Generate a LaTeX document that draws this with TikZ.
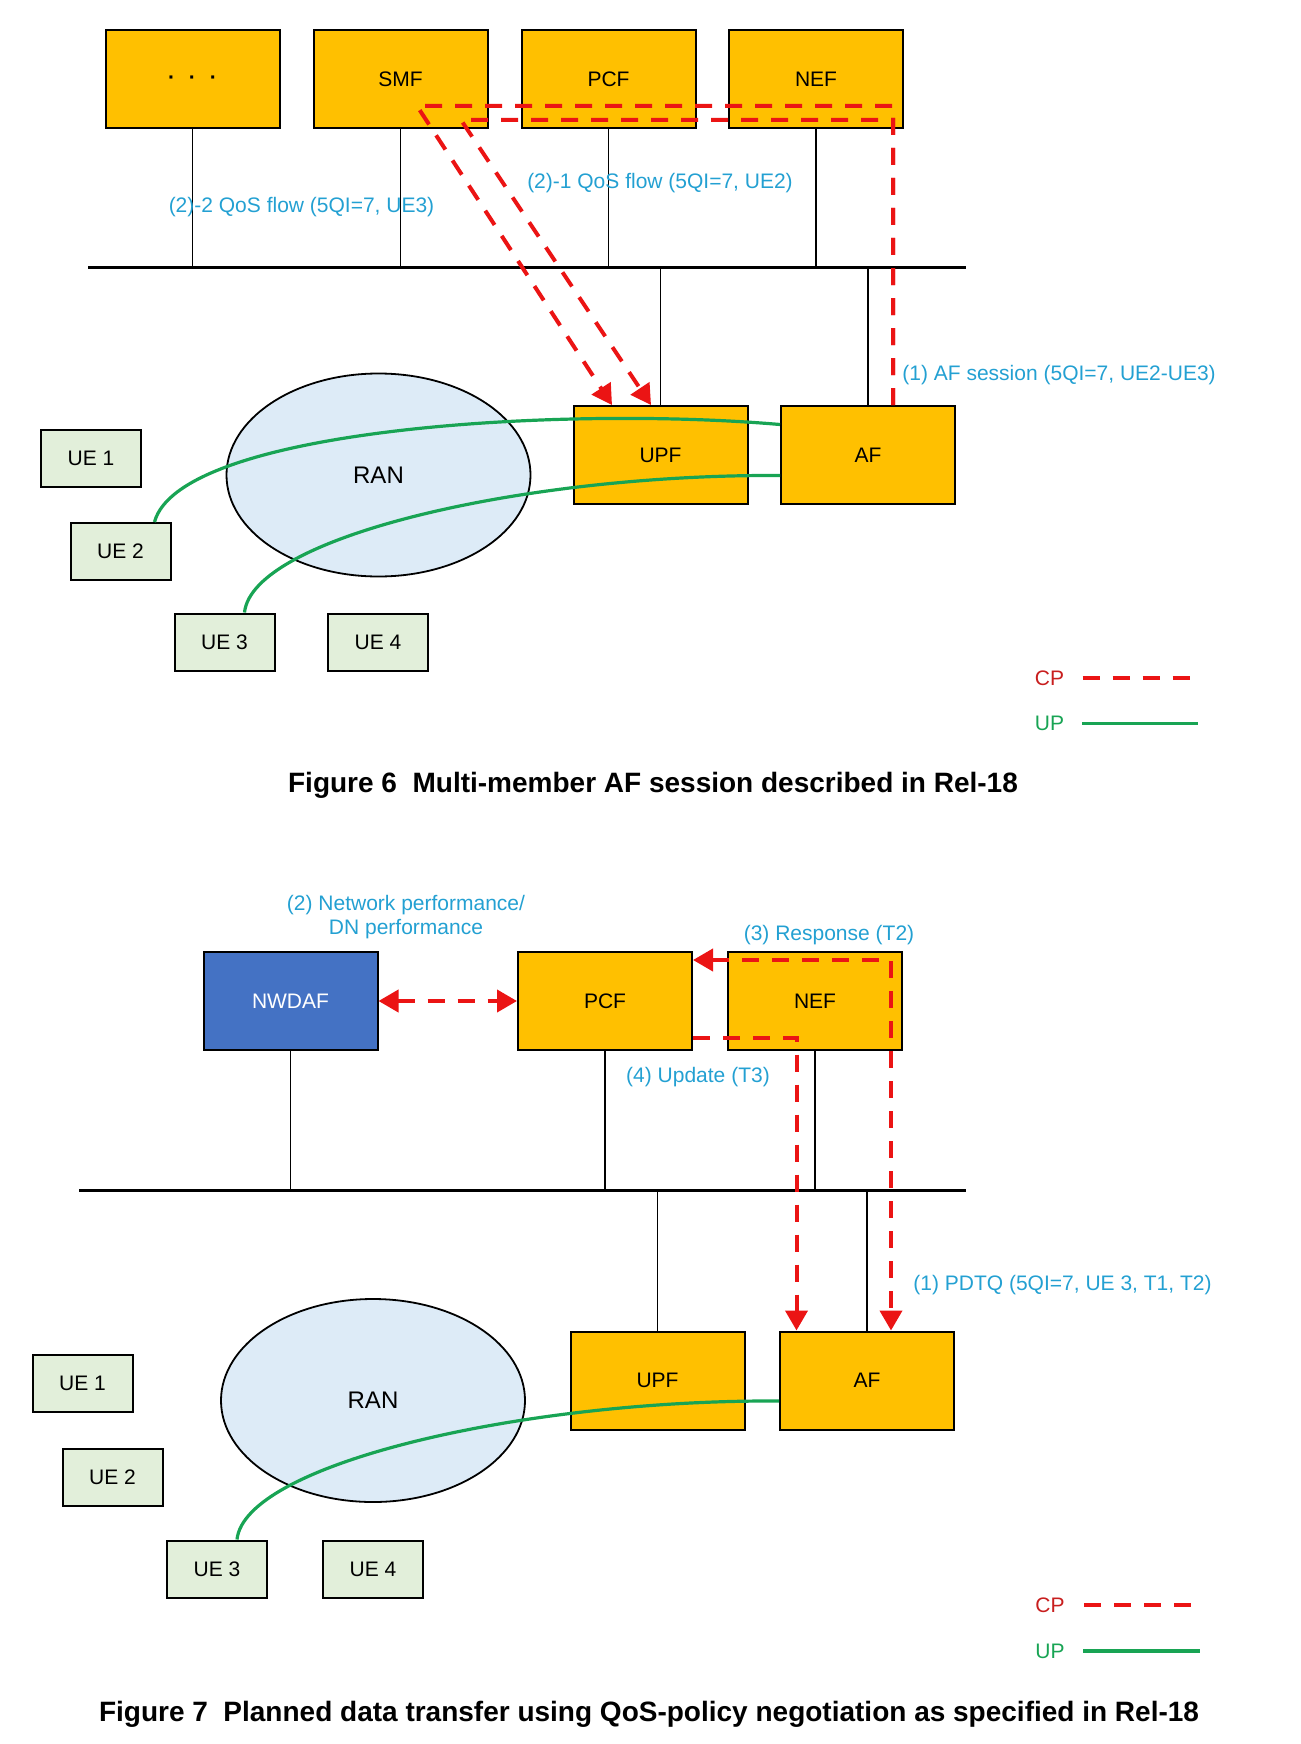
\documentclass[tikz,border=0pt]{standalone}
\usepackage{fontspec}
\setmainfont{Liberation Sans}
\usetikzlibrary{calc,positioning,arrows.meta,shapes.geometric}
\definecolor{nfyellow}{HTML}{FFC000}
\definecolor{nwblue}{HTML}{4472C4}
\definecolor{uegreen}{HTML}{E2EFDA}
\definecolor{ranblue}{HTML}{DDEBF7}
\definecolor{lblblue}{RGB}{35,160,210}
\definecolor{cpred}{RGB}{235,20,20}
\definecolor{cptext}{RGB}{200,30,30}
\definecolor{upgreen}{RGB}{24,164,84}
\tikzset{
  nf/.style={draw,line width=1pt,rectangle,fill=nfyellow,minimum width=87pt,
    minimum height=49pt,inner sep=0pt,font=\fontsize{10.5}{12.6}\selectfont},
  ue/.style={draw,line width=1pt,rectangle,fill=uegreen,minimum width=50pt,
    minimum height=28.5pt,inner sep=0pt,font=\fontsize{10.5}{12.6}\selectfont},
  ran/.style={draw,line width=0.9pt,ellipse,fill=ranblue,minimum width=152pt,
    minimum height=101.5pt,inner sep=0pt,font=\fontsize{12}{14}\selectfont},
  lbl/.style={text=lblblue,inner sep=0pt,font=\fontsize{10.5}{12.2}\selectfont},
  cp/.style={draw=cpred,line width=2pt,dash pattern=on 8.5pt off 6.5pt,
    >={Triangle[width=11pt,length=10pt]}},
  up/.style={draw=upgreen,line width=1.6pt},
  link/.style={line width=0.75pt},
  bus/.style={line width=1.5pt},
  caption/.style={inner sep=0pt,font=\fontsize{14}{16}\selectfont\bfseries}
}

\begin{document}
\begin{tikzpicture}[x=0.5pt,y=-0.5pt]
  \useasboundingbox (0,0) rectangle (1300,1744);

  % Figure 6
  \node [nf] at(192.5,79) (dots) {\vphantom{Ag}\bfseries ·\hspace{7pt}·\hspace{7pt}·};
  \node [nf] at(400.5,79) (smf) {SMF};
  \node [nf] at(608.5,79) (pcf) {PCF};
  \node [nf] at(816,79) (nef) {NEF};
  \coordinate (busA) at (88,267);
  \coordinate (busB) at (966,267);
  \draw [bus] (busA) -- (busB);
  \foreach \nf in {dots,smf,pcf,nef}
    \draw [link] (\nf.south) -- (\nf.south |- busA);

  \node [nf] at(660.5,455) (upf) {UPF};
  \node [nf] at(868,455) (af) {AF};
  \foreach \nf in {upf,af}
    \draw [link] (\nf.north) -- (\nf.north |- busA);

  \node [ran] at(378.5,475) (ran) {RAN};
  \node [ue] at(91,458) (ueA1) {UE 1};
  \node [ue] at(120.5,551.5) (ueA2) {UE 2};
  \node [ue] at(224.5,642) (ueA3) {UE 3};
  \node [ue] at(378,642) (ueA4) {UE 4};

  \draw [up] ($(ueA2.north)+(34,0)$) .. controls +(25,-93) and +(-221,-19) .. ($(af.west)+(0,-30.5)$);
  \draw [up] ($(ueA3.north)+(20,0)$) .. controls +(8,-76) and +(-254,-1.5) .. ($(af.west)+(0,20.5)$);

  \coordinate (cpA) at (417,106);
  \coordinate (cpB) at (461,120);
  \draw [cp,->] ($(af.north)+(25,0)$) |- (cpA) -- ($(upf.north)+(-48.5,0)$);
  \draw [cp,->] ($(af.north)+(25,0)$) |- (cpB) -- ($(upf.north)+(-9.5,0)$);

  \node [lbl] at(301.5,207) (flowA) {(2)-2 QoS flow (5QI=7, UE3)};
  \node [lbl] at(660,183.5) (flowB) {(2)-1 QoS flow (5QI=7, UE2)};
  \node [lbl,anchor=west] at(902,375) (afsess) {(1) AF session (5QI=7, UE2-UE3)};

  \node [lbl,text=cptext] at(1049.5,678) (cpkeyA) {CP};
  \node [lbl,text=upgreen] at(1049.5,723.5) (upkeyA) {UP};
  \draw [cp] ($(cpkeyA.east)+(18,0)$) -- +(111,0);
  \draw [up] ($(upkeyA.east)+(17.5,0)$) -- +(115.5,0);

  \node [caption] at(653,785) (figA) {Figure 6~~Multi-member AF session described in Rel-18};

  % Figure 7
  \node [nf,fill=nwblue,text=white] at(290.5,1001) (nwdaf) {NWDAF};
  \node [nf] at(605,1001) (pcfB) {PCF};
  \node [nf] at(815,1001) (nefB) {NEF};
  \coordinate (busC) at (79,1190);
  \coordinate (busD) at (966,1190);
  \draw [bus] (busC) -- (busD);
  \foreach \nf in {nwdaf,pcfB,nefB}
    \draw [link] (\nf.south) -- (\nf.south |- busC);

  \node [nf] at(657.5,1380.5) (upfB) {UPF};
  \node [nf] at(867,1380.5) (afB) {AF};
  \foreach \nf in {upfB,afB}
    \draw [link] (\nf.north) -- (\nf.north |- busC);

  \node [ran] at(373,1400.5) (ranB) {RAN};
  \node [ue] at(82.5,1383.5) (ueB1) {UE 1};
  \node [ue] at(112.5,1477.5) (ueB2) {UE 2};
  \node [ue] at(217,1569) (ueB3) {UE 3};
  \node [ue] at(373,1569) (ueB4) {UE 4};

  \draw [up] ($(ueB3.north)+(20,0)$) .. controls +(8,-76) and +(-254,-1.5) .. ($(afB.west)+(0,20.5)$);

  \draw [cp,<->] (nwdaf.east) -- (pcfB.west);
  \draw [cp,<->] ($(pcfB.north east)+(0,9)$) -| ($(afB.north)+(24,0)$);
  \draw [cp,->] ($(pcfB.south east)+(0,-13)$) -| ($(afB.north)+(-70.5,0)$);

  \node [lbl,align=center] at(406,917) (netperf) {(2) Network performance/\\DN performance};
  \node [lbl] at(829,935) (resp) {(3) Response (T2)};
  \node [lbl] at(698,1077) (upd) {(4) Update (T3)};
  \node [lbl,anchor=west] at(913,1285) (pdtq) {(1) PDTQ (5QI=7, UE 3, T1, T2)};

  \node [lbl,text=cptext] at(1050,1605) (cpkeyB) {CP};
  \node [lbl,text=upgreen] at(1050,1651) (upkeyB) {UP};
  \draw [cp] ($(cpkeyB.east)+(19,0)$) -- +(112,0);
  \draw [up] ($(upkeyB.east)+(18,0)$) -- +(117,0);

  \node [caption] at(649,1714) (figB) {Figure 7~~Planned data transfer using QoS-policy negotiation as specified in Rel-18};
\end{tikzpicture}
\end{document}
